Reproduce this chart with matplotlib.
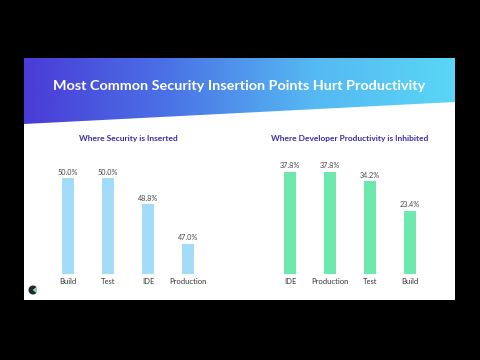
import numpy as np
import matplotlib
matplotlib.use('Agg')
import matplotlib.pyplot as plt
from matplotlib.patches import Polygon, Rectangle, Wedge
from matplotlib.colors import LinearSegmentedColormap

# datos
titulo = 'Most Common Security Insertion Points Hurt Productivity'
izq_titulo = 'Where Security is Inserted'
izq_cats = ['Build', 'Test', 'IDE', 'Production']
izq_vals = [50.0, 50.0, 48.8, 47.0]
der_titulo = 'Where Developer Productivity is Inhibited'
der_cats = ['IDE', 'Production', 'Test', 'Build']
der_vals = [37.8, 37.8, 34.2, 23.4]

plt.rcParams['font.family'] = ['Lato', 'DejaVu Sans']

fig = plt.figure(figsize=(4.8, 3.6), dpi=100)
fig.patch.set_facecolor('black')

# fondo: diapositiva en coordenadas de pixel
bg = fig.add_axes([0, 0, 1, 1])
bg.set_xlim(0, 480)
bg.set_ylim(360, 0)
bg.axis('off')
bg.add_patch(Rectangle((24, 58), 431, 242, facecolor='white', edgecolor='none'))

# banda superior con degradado
grad = LinearSegmentedColormap.from_list('banda', ['#4a3bd7', '#4a72e6', '#55b8f2', '#5ad6f6'])
img = bg.imshow(np.linspace(0, 1, 256)[None, :], cmap=grad, aspect='auto',
                extent=(24, 455, 125, 58), zorder=1)
banda = Polygon([(24, 58), (455, 58), (455, 102), (24, 124)], closed=True,
                facecolor='none', edgecolor='none')
bg.add_patch(banda)
img.set_clip_path(banda)
bg.text(239, 86, titulo, color='white', fontsize=10.4, fontweight='bold',
        ha='center', va='center', zorder=3)

# logo pequeño
bg.add_patch(Wedge((33, 290), 4.5, 40, 320, facecolor='#1f2a2a', edgecolor='none', zorder=3))
bg.add_patch(Polygon([(33, 290), (37, 287), (37, 293)], closed=True,
                     facecolor='#7fd6b0', edgecolor='none', zorder=3))


def barras(rect, cats, vals, color, ylim, sub, sub_x):
    ax = fig.add_axes([rect[0] / 480, 1 - rect[1] / 360, rect[2] / 480, rect[3] / 360])
    x = np.arange(len(cats))
    ax.bar(x, vals, width=0.3, color=color)
    ax.set_xlim(-0.6, len(cats) - 0.4)
    ax.set_ylim(*ylim)
    for xi, v in zip(x, vals):
        ax.text(xi, v + (ylim[1] - ylim[0]) * 0.02, f'{v:.1f}%', ha='center', va='bottom',
                fontsize=5.2, color='#444444')
    ax.set_xticks(x)
    ax.set_xticklabels(cats, fontsize=5.5, color='#333333')
    ax.tick_params(axis='x', length=0, pad=3)
    ax.set_yticks([])
    for s in ax.spines.values():
        s.set_visible(False)
    ax.patch.set_alpha(0)
    bg.text(sub_x, 139, sub, color='#3a2ca8', fontsize=6, fontweight='bold',
            ha='center', va='center')
    return ax


barras((44, 274, 168, 124), izq_cats, izq_vals, '#a3dcf8', (45.6, 51.3), izq_titulo, 128)
barras((266, 274, 168, 124), der_cats, der_vals, '#6de9ae', (0, 45.8), der_titulo, 350)

plt.savefig('out.png', dpi=100, facecolor='black')
